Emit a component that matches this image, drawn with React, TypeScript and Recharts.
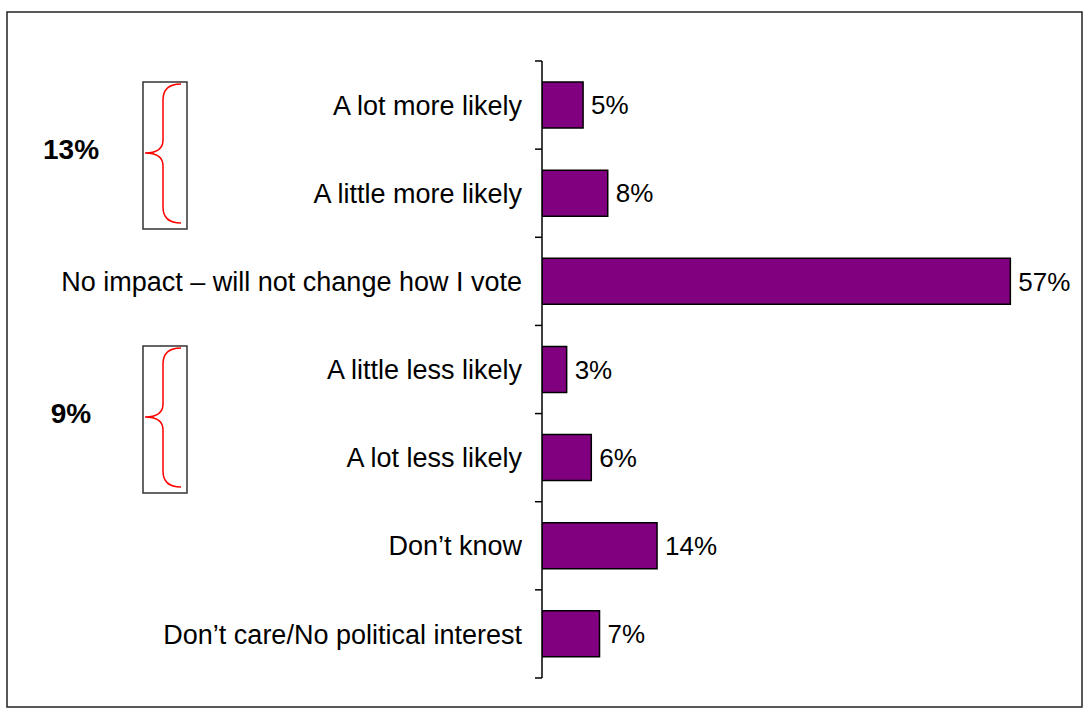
import { BarChart, Bar, XAxis, YAxis, LabelList } from "recharts";

const categories = [
  "A lot more likely",
  "A little more likely",
  "No impact – will not change how I vote",
  "A little less likely",
  "A lot less likely",
  "Don’t know",
  "Don’t care/No political interest",
];
const values = [5, 8, 57, 3, 6, 14, 7];

const data = categories.map((name, i) => ({ name, value: values[i] }));

// grouped totals shown next to the brackets
const moreLikely = values[0] + values[1];
const lessLikely = values[3] + values[4];

const FONT = "'Liberation Sans', Arial, sans-serif";
const TICK_SIZE = 6;
const TICK_MARGIN = 14;

// category label + small tick marks at the band edges (not band centres)
function CategoryTick(props: any) {
  const { x, y, payload, index, visibleTicksCount } = props;
  const axisX = x + TICK_SIZE + TICK_MARGIN;
  const half = payload.offset || 0;
  const last = index === visibleTicksCount - 1;
  return (
    <g>
      <line x1={axisX - 7} x2={axisX} y1={y - half} y2={y - half} stroke="#000" strokeWidth={1.5} />
      {last && (
        <line x1={axisX - 7} x2={axisX} y1={y + half} y2={y + half} stroke="#000" strokeWidth={1.5} />
      )}
      <text x={x} y={y} dy="0.355em" textAnchor="end" fill="#000" fontSize={27} fontFamily={FONT}>
        {payload.value}
      </text>
    </g>
  );
}

function Brace({ dy, total }: { dy: number; total: number }) {
  return (
    <g transform={`translate(0, ${dy})`}>
      <rect x={143} y={82} width={44} height={147} fill="none" stroke="#333" strokeWidth={1.5} />
      <path
        d="M181,84 Q163,84 163,100 L163,140 Q163,153 145,153 Q163,153 163,166 L163,207 Q163,223 181,223"
        fill="none"
        stroke="#ff0000"
        strokeWidth={1.5}
      />
      <text x={71} y={159} textAnchor="middle" fontFamily={FONT} fontWeight="bold" fontSize={28} fill="#000">
        {total}%
      </text>
    </g>
  );
}

export default function App() {
  return (
    <div style={{ position: "absolute", left: 0, top: 0, width: 1088, height: 713, background: "#fff" }}>
      <BarChart
        width={1088}
        height={713}
        data={data}
        layout="vertical"
        margin={{ top: 61, right: 53, bottom: 35, left: 0 }}
        style={{ fontFamily: FONT }}
      >
        <XAxis type="number" domain={[0, 60]} hide allowDataOverflow />
        <YAxis
          type="category"
          dataKey="name"
          width={542}
          axisLine={{ stroke: "#000", strokeWidth: 1.5 }}
          tickLine={false}
          tickSize={TICK_SIZE}
          tickMargin={TICK_MARGIN}
          interval={0}
          tick={<CategoryTick />}
        />
        <Bar
          dataKey="value"
          fill="#800080"
          stroke="#000"
          strokeWidth={1.5}
          barSize={46}
          isAnimationActive={false}
        >
          <LabelList
            dataKey="value"
            position="right"
            offset={8}
            formatter={(v: number) => `${v}%`}
            style={{ fill: "#000", fontSize: 26, fontFamily: FONT }}
          />
        </Bar>
      </BarChart>
      <svg
        width={1088}
        height={713}
        style={{ position: "absolute", left: 0, top: 0, pointerEvents: "none" }}
      >
        <rect x={7} y={12} width={1075} height={695} fill="none" stroke="#222" strokeWidth={1.5} />
        <Brace dy={0} total={moreLikely} />
        <Brace dy={264} total={lessLikely} />
      </svg>
    </div>
  );
}
